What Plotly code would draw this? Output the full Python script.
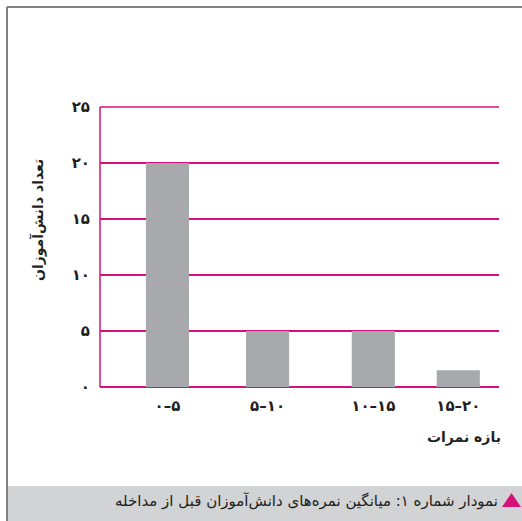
import plotly.graph_objects as go

# Score ranges and number of students in each range
categories = ["۰–۵", "۵–۱۰", "۱۰–۱۵", "۱۵–۲۰"]
students = [20, 5, 5, 1.5]

y_tick_values = [0, 5, 10, 15, 20, 25]
y_tick_labels = ["۰", "۵", "۱۰", "۱۵", "۲۰", "۲۵"]

y_title = "تعداد دانش‌آموزان"
x_title = "بازه نمرات"
caption = "نمودار شماره ۱: میانگین نمره‌های دانش‌آموزان قبل از مداخله"

# Layout: horizontal bar centres (fraction of the plot width) and bar width
bar_centres = [0.169, 0.420, 0.685, 0.898]
bar_width = 0.108

W, H = 522, 521
L, R, T, B = 100, 23, 107, 134
PW, PH = W - L - R, H - T - B

MAGENTA = "#d6127a"
BAR_GREY = "#a7a9ac"
BAND_GREY = "#d1d3d4"
FRAME_GREY = "#808080"
TEXT = "#231f20"


def px(x):
    return (x - L) / PW


def py(y):
    return (H - B - y) / PH


fig = go.Figure(
    go.Bar(
        x=bar_centres,
        y=students,
        width=bar_width,
        marker=dict(color=BAR_GREY, line=dict(width=0)),
        hoverinfo="skip",
    )
)

fig.update_layout(
    width=W,
    height=H,
    margin=dict(l=L, r=R, t=T, b=B),
    paper_bgcolor="white",
    plot_bgcolor="white",
    showlegend=False,
    font=dict(family="DejaVu Sans", color=TEXT),
)

fig.update_xaxes(
    range=[0, 1],
    tickvals=bar_centres,
    ticktext=categories,
    tickfont=dict(family="DejaVu Sans", size=15, color=TEXT, weight="bold"),
    showgrid=False,
    zeroline=False,
    showline=False,
    ticks="",
    ticklabelstandoff=8,
)

# the y range ends exactly at the last tick, so the top of the plot area is 25
y_max = y_tick_values[-1]
fig.update_yaxes(
    range=[0, y_max],
    tickvals=y_tick_values,
    ticktext=y_tick_labels,
    tickfont=dict(family="DejaVu Sans", size=15, color=TEXT, weight="bold"),
    showgrid=True,
    gridcolor=MAGENTA,
    gridwidth=1.5,
    zeroline=True,
    zerolinecolor=MAGENTA,
    zerolinewidth=1.5,
    showline=False,
    ticks="",
    ticklabelstandoff=9,
)

shapes = [
    # caption band
    dict(type="rect", xref="paper", yref="paper",
         x0=px(7), x1=px(523), y0=py(486), y1=py(522),
         fillcolor=BAND_GREY, line=dict(width=0), layer="below"),
    # frame: top and left edges
    dict(type="line", xref="paper", yref="paper",
         x0=px(7), x1=px(523), y0=py(7), y1=py(7),
         line=dict(color=FRAME_GREY, width=2)),
    dict(type="line", xref="paper", yref="paper",
         x0=px(7), x1=px(7), y0=py(7), y1=py(522),
         line=dict(color=FRAME_GREY, width=2)),
    # left axis line and the top gridline (paper top = y_max)
    dict(type="line", xref="paper", yref="paper",
         x0=0, x1=0, y0=0, y1=1,
         line=dict(color=MAGENTA, width=1.5)),
    dict(type="line", xref="paper", yref="paper",
         x0=0, x1=1, y0=1, y1=1,
         line=dict(color=MAGENTA, width=1.5)),
    # caption marker
    dict(type="path", xref="paper", yref="paper",
         path=f"M {px(502)} {py(507)} L {px(521)} {py(507)} L {px(511.5)} {py(493)} Z",
         fillcolor=MAGENTA, line=dict(width=0)),
]
fig.update_layout(shapes=shapes)

fig.add_annotation(
    text=y_title, xref="paper", yref="paper",
    x=px(38), y=py(220), textangle=-90, showarrow=False,
    xanchor="center", yanchor="middle",
    font=dict(family="DejaVu Sans", size=14, color=TEXT, weight="bold"),
)
fig.add_annotation(
    text=x_title, xref="paper", yref="paper",
    x=px(503), y=py(437), showarrow=False,
    xanchor="right", yanchor="middle",
    font=dict(family="DejaVu Sans", size=14, color=TEXT, weight="bold"),
)
fig.add_annotation(
    text=caption, xref="paper", yref="paper",
    x=px(500), y=py(501), showarrow=False,
    xanchor="right", yanchor="middle",
    font=dict(family="DejaVu Sans", size=15, color=TEXT),
)

fig.write_html("out.html")
